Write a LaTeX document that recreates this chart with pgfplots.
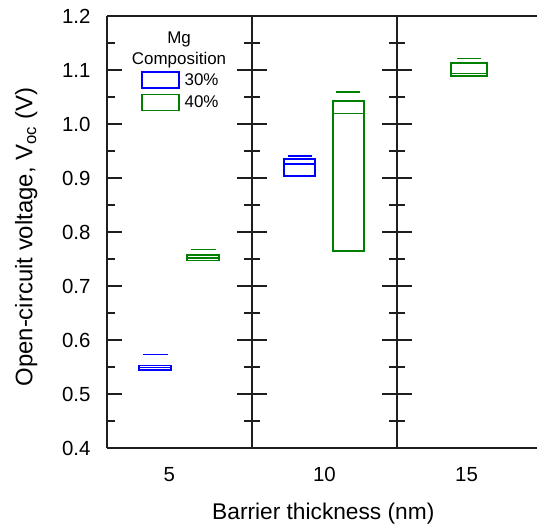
\documentclass[border=0pt]{standalone}
\usepackage{fontspec}
\setmainfont{Liberation Sans}
\usepackage{pgfplots}
\pgfplotsset{compat=1.18}
\definecolor{boxblue}{RGB}{0,0,255}
\definecolor{boxgreen}{RGB}{0,128,0}
\definecolor{axisgray}{RGB}{30,30,30}

\begin{document}
\begin{tikzpicture}
\begin{axis}[
    scale only axis,
    width=430bp, height=432bp,
    xmin=0, xmax=2.9655,
    ymin=0.4, ymax=1.2,
    axis x line=bottom, axis y line=left,
    axis line style={-, line width=1.5bp, axisgray},
    clip=false,
    xtick={0.43,1.5,2.48}, xticklabels={5,10,15},
    major x tick style={draw=none},
    ytick={0.4,0.5,0.6,0.7,0.8,0.9,1.0,1.1,1.2},
    minor y tick num=1,
    tick align=inside,
    major tick length=15bp, minor tick length=8bp,
    every tick/.style={line width=1.5bp, axisgray},
    yticklabel style={xshift=-13bp, /pgf/number format/.cd, fixed, fixed zerofill, precision=1},
    xticklabel style={yshift=-16bp},
    /pgf/number format/assume math mode=true,
    tick label style={font=\fontsize{20.5}{21}\selectfont},
    xlabel={Barrier thickness (nm)},
    ylabel={Open-circuit voltage, V\textsubscript{oc} (V)},
    xlabel style={font=\fontsize{22.8}{24}\selectfont, at={(axis description cs:0.503,-0.153)}, anchor=center},
    ylabel style={font=\fontsize{24}{26}\selectfont, at={(axis description cs:-0.188,0.488)}, anchor=center},
    legend style={at={(0.072,0.877)}, anchor=north west, draw=none, fill=none,
        row sep=5bp, font=\fontsize{17}{20}\selectfont,
        /tikz/every odd column/.style={column sep=3bp}},
    legend image code/.code={\draw[#1] (0bp,-8bp) rectangle (37bp,8bp);},
]

% 5 nm
\addplot[boxblue, line width=1.5bp, forget plot] coordinates {(0.221,0.544)(0.441,0.544)(0.441,0.553)(0.221,0.553)} -- cycle;
\addplot[boxblue, line width=1.3bp, forget plot] coordinates {(0.221,0.549)(0.441,0.549)};
\addplot[boxblue, line width=1.3bp, forget plot] coordinates {(0.248,0.573)(0.421,0.573)};
\addplot[boxgreen, line width=1.5bp, forget plot] coordinates {(0.552,0.747)(0.772,0.747)(0.772,0.757)(0.552,0.757)} -- cycle;
\addplot[boxgreen, line width=1.2bp, forget plot] coordinates {(0.552,0.752)(0.772,0.752)};
\addplot[boxgreen, line width=1.3bp, forget plot] coordinates {(0.579,0.768)(0.752,0.768)};

% 10 nm
\addplot[boxblue, line width=1.5bp, forget plot] coordinates {(1.221,0.904)(1.434,0.904)(1.434,0.935)(1.221,0.935)} -- cycle;
\addplot[boxblue, line width=1.3bp, forget plot] coordinates {(1.221,0.926)(1.434,0.926)};
\addplot[boxblue, line width=1.3bp, forget plot] coordinates {(1.248,0.941)(1.414,0.941)};
\addplot[boxgreen, line width=1.5bp, forget plot] coordinates {(1.559,0.765)(1.772,0.765)(1.772,1.043)(1.559,1.043)} -- cycle;
\addplot[boxgreen, line width=1.3bp, forget plot] coordinates {(1.559,1.020)(1.772,1.020)};
\addplot[boxgreen, line width=1.3bp, forget plot] coordinates {(1.579,1.059)(1.745,1.059)};

% 15 nm
\addplot[boxgreen, line width=1.5bp, forget plot] coordinates {(2.372,1.089)(2.621,1.089)(2.621,1.113)(2.372,1.113)} -- cycle;
\addplot[boxgreen, line width=1.3bp, forget plot] coordinates {(2.372,1.094)(2.621,1.094)};
\addplot[boxgreen, line width=1.3bp, forget plot] coordinates {(2.414,1.121)(2.579,1.121)};

\addlegendimage{boxblue, line width=1.5bp}
\addlegendentry{30\%}
\addlegendimage{boxgreen, line width=1.5bp}
\addlegendentry{40\%}

% frame: top line and panel dividers with ticks on both sides
\draw[line width=1.5bp, axisgray] (rel axis cs:0,1) -- (rel axis cs:1,1);
\draw[line width=1.5bp, axisgray] (axis cs:1,0.4) -- (axis cs:1,1.2);
\draw[line width=1.5bp, axisgray] (axis cs:2,0.4) -- (axis cs:2,1.2);
\pgfplotsinvokeforeach{0.5,0.6,0.7,0.8,0.9,1.0,1.1}{
  \draw[line width=1.5bp, axisgray] ([xshift=-15bp]axis cs:1,#1) -- ([xshift=15bp]axis cs:1,#1);
  \draw[line width=1.5bp, axisgray] ([xshift=-15bp]axis cs:2,#1) -- ([xshift=15bp]axis cs:2,#1);
}
\pgfplotsinvokeforeach{0.45,0.55,0.65,0.75,0.85,0.95,1.05,1.15}{
  \draw[line width=1.5bp, axisgray] ([xshift=-8bp]axis cs:1,#1) -- ([xshift=8bp]axis cs:1,#1);
  \draw[line width=1.5bp, axisgray] ([xshift=-8bp]axis cs:2,#1) -- ([xshift=8bp]axis cs:2,#1);
}

\node[align=center, font=\fontsize{17}{21}\selectfont] at (axis cs:0.497,1.137) {Mg\\Composition};
\end{axis}
\pgfresetboundingbox
\path (current axis.south west) ++(-107bp,-79bp) rectangle ++(537bp,527bp);
\end{tikzpicture}
\end{document}
